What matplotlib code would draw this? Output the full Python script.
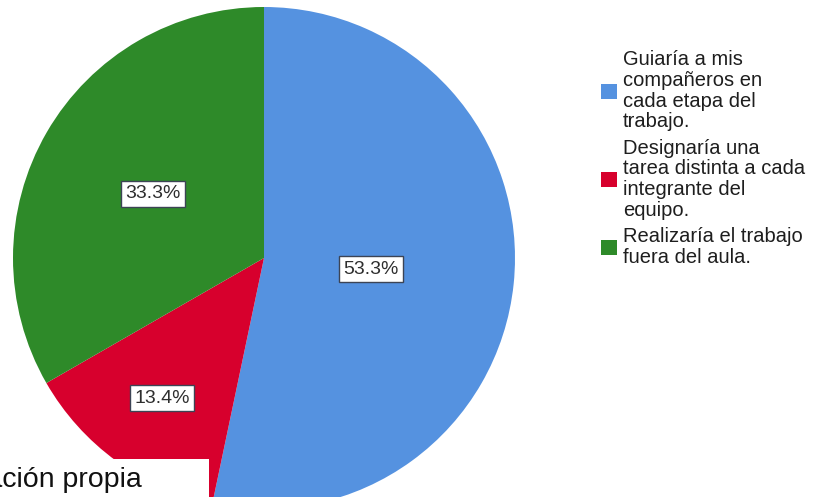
import matplotlib
matplotlib.use('Agg')
import numpy as np
from matplotlib import pyplot as plt

plt.rcParams['font.family'] = ['Liberation Sans', 'DejaVu Sans']

# answer categories and their shares (%)
categories = ['Guiaría a mis\ncompañeros en\ncada etapa del\ntrabajo.',
              'Designaría una\ntarea distinta a cada\nintegrante del\nequipo.',
              'Realizaría el trabajo\nfuera del aula.']
shares = [53.3, 13.4, 33.3]
colors = ['#5592e0', '#d7002d', '#2e8a29']
label_radius = [0.43, 0.69, 0.51]
source_note = 'Elaboración propia'

W, H = 817, 497
cx, cy, R = 264, H - 258, 251

fig = plt.figure(figsize=(W / 100, H / 100), dpi=100)
ax = fig.add_axes([0, 0, 1, 1])

wedges, _ = ax.pie(shares, colors=colors, startangle=90, counterclock=False,
                   center=(cx, cy), radius=R, normalize=True,
                   wedgeprops=dict(linewidth=0))

# percentage labels in white boxes, each at its own distance along the wedge middle
for w, val, rr in zip(wedges, shares, label_radius):
    mid = np.deg2rad((w.theta1 + w.theta2) / 2)
    ax.text(cx + rr * R * np.cos(mid), cy + rr * R * np.sin(mid), f'{val:.1f}%',
            ha='center', va='center', fontsize=14, color='#2e2e2e',
            bbox=dict(boxstyle='square,pad=0.22', facecolor='white',
                      edgecolor='#3c4455', linewidth=1))

# pie() sets its own limits, so put the pixel frame back afterwards
ax.set_xlim(0, W)
ax.set_ylim(0, H)
ax.set_aspect('equal')
ax.axis('off')

leg = ax.legend(wedges, categories, loc='upper left',
                bbox_to_anchor=(591 / W, 1 - 40 / H),
                bbox_transform=fig.transFigure, frameon=False,
                fontsize=14.5, handlelength=0.8, handleheight=0.8,
                handletextpad=0.3, labelspacing=0.35, borderpad=0)
for t in leg.get_texts():
    t.set_color('#1e1e1e')
    t.set_linespacing(1.12)

# source note box in the lower-left corner
fig.patches.append(plt.Rectangle((0, 0), 209 / W, 38 / H, transform=fig.transFigure,
                                 facecolor='white', edgecolor='none', zorder=5))
fig.text(142 / W, 10 / H, source_note, ha='right', va='baseline',
         fontsize=20.5, color='#111111', zorder=6)

fig.savefig('out.png', dpi=100)
